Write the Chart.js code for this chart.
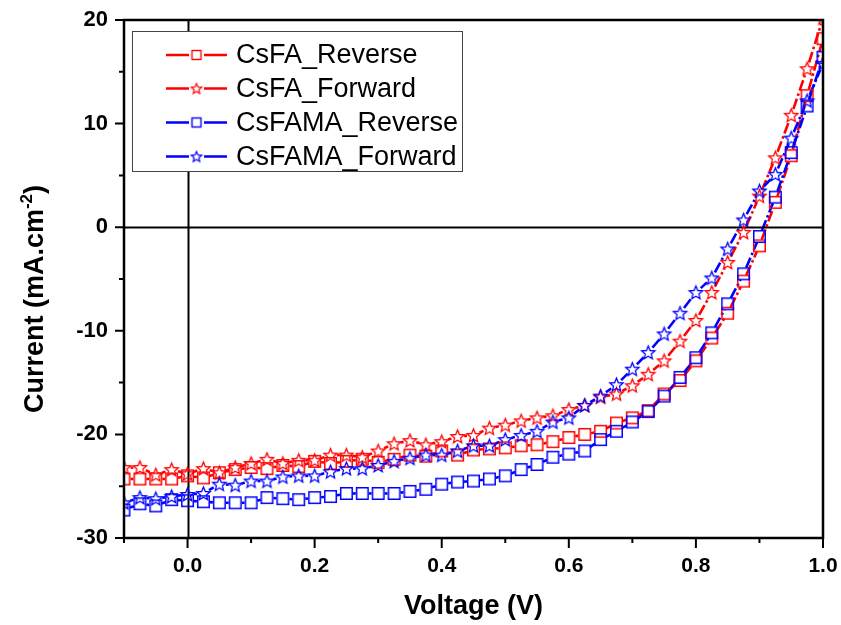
<!DOCTYPE html>
<html>
<head>
<meta charset="utf-8">
<script src="https://cdn.jsdelivr.net/npm/chart.js@4.4.1/dist/chart.umd.min.js"></script>
<style>
  html, body { margin: 0; padding: 0; background: #fff; }
  #wrap { width: 841px; height: 625px; }
</style>
</head>
<body>
<div id="wrap"><canvas id="jvChart" width="841" height="625"></canvas></div>
<script>
// J-V sweep data (V in volts, J in mA/cm2)
var voltage = [-0.1, -0.075, -0.05, -0.025, 0, 0.025, 0.05, 0.075, 0.1, 0.125,
  0.15, 0.175, 0.2, 0.225, 0.25, 0.275, 0.3, 0.325, 0.35, 0.375,
  0.4, 0.425, 0.45, 0.475, 0.5, 0.525, 0.55, 0.575, 0.6, 0.625,
  0.65, 0.675, 0.7, 0.725, 0.75, 0.775, 0.8, 0.825, 0.85, 0.875,
  0.9, 0.925, 0.95, 0.975, 1.0];

var csfaReverse = [-24.3, -24.3, -24.3, -24.3, -24.0, -24.2, -23.7, -23.4, -23.2, -23.3,
  -23.0, -23.1, -22.6, -22.8, -22.6, -22.4, -22.7, -22.4, -22.0, -22.1,
  -21.6, -22.0, -21.5, -21.4, -21.3, -21.1, -21.0, -20.7, -20.3, -20.0,
  -19.7, -18.9, -18.4, -17.7, -16.1, -14.8, -12.9, -10.7, -8.3, -5.2,
  -1.8, 2.4, 6.9, 12.7, 18.2];

var csfaForward = [-23.2, -23.2, -23.9, -23.4, -23.8, -23.3, -23.7, -23.2, -22.8, -22.4,
  -22.8, -22.5, -22.5, -22.0, -22.0, -22.2, -21.6, -20.9, -20.6, -21.0,
  -20.7, -20.2, -20.1, -19.4, -19.1, -18.7, -18.4, -18.2, -17.6, -17.2,
  -16.4, -16.1, -15.3, -14.2, -12.9, -11.0, -9.0, -6.3, -3.4, -0.5,
  3.0, 6.7, 10.8, 15.3, 20.2];

var csfamaReverse = [-27.3, -26.7, -26.9, -26.3, -26.4, -26.5, -26.6, -26.6, -26.6, -26.1,
  -26.2, -26.3, -26.1, -26.0, -25.7, -25.7, -25.7, -25.7, -25.5, -25.3,
  -24.8, -24.6, -24.5, -24.3, -24.0, -23.4, -22.9, -22.2, -21.9, -21.6,
  -20.5, -19.7, -18.8, -17.8, -16.3, -14.5, -12.6, -10.2, -7.4, -4.5,
  -0.9, 2.9, 7.2, 11.7, 16.4];

var csfamaForward = [-26.6, -26.1, -26.2, -26.0, -25.8, -25.7, -24.8, -24.9, -24.5, -24.5,
  -24.1, -24.0, -24.0, -23.6, -23.3, -23.3, -23.0, -22.6, -22.3, -22.0,
  -22.0, -21.6, -21.1, -21.1, -20.5, -20.1, -19.7, -18.8, -18.4, -17.2,
  -16.3, -15.2, -13.7, -12.1, -10.3, -8.3, -6.3, -4.9, -2.1, 0.7,
  3.5, 5.1, 8.6, 12.2, 15.8];

var seriesNames = ['CsFA_Reverse', 'CsFA_Forward', 'CsFAMA_Reverse', 'CsFAMA_Forward'];
var xMajorTicks = [0, 0.2, 0.4, 0.6, 0.8, 1.0];
var xMinorTicks = [-0.1, 0.1, 0.3, 0.5, 0.7, 0.9];
var yMajorTicks = [-30, -20, -10, 0, 10, 20];
var yMinorTicks = [-25, -15, -5, 5, 15];

var RED = '#ff0000';
var BLUE = '#0000ff';
var FONT = '"Liberation Sans", Arial, Helvetica, sans-serif';

// hollow five-point star as a small canvas, used as pointStyle
function makeStar(color, r, lw) {
    var size = Math.ceil(r * 2 + lw * 2 + 2);
    var c = document.createElement('canvas');
    c.width = size;
    c.height = size;
    var g = c.getContext('2d');
    var cx = size / 2, cy = size / 2 + r * 0.08;
    g.beginPath();
    for (var i = 0; i < 10; i++) {
        var rr = (i % 2 === 0) ? r : r * 0.45;
        var a = -Math.PI / 2 + i * Math.PI / 5;
        var px = cx + rr * Math.cos(a), py = cy + rr * Math.sin(a);
        if (i === 0) g.moveTo(px, py); else g.lineTo(px, py);
    }
    g.closePath();
    g.strokeStyle = color;
    g.lineWidth = lw;
    g.stroke();
    return c;
}

function makeSquare(color, side, lw) {
    var size = Math.ceil(side + lw * 2 + 2);
    var c = document.createElement('canvas');
    c.width = size;
    c.height = size;
    var g = c.getContext('2d');
    g.strokeStyle = color;
    g.lineWidth = lw;
    g.strokeRect((size - side) / 2, (size - side) / 2, side, side);
    return c;
}

var redStar = makeStar(RED, 7, 1.3);
var blueStar = makeStar(BLUE, 7, 1.3);
var redSquare = makeSquare(RED, 11.5, 1.5);
var blueSquare = makeSquare(BLUE, 11.5, 1.5);

function toPoints(ys) {
    return voltage.map(function (v, i) { return { x: v, y: ys[i] }; });
}

// keep tick labels from eating into the plot area
function pinScale(scale) {
    scale.paddingLeft = 0;
    scale.paddingRight = 0;
    scale.paddingTop = 0;
    scale.paddingBottom = 0;
}

// lines between symbols with a gap, dash-dot like the original
var symbolLines = {
    id: 'symbolLines',
    beforeDatasetsDraw: function (chart) {
        var ctx = chart.ctx, area = chart.chartArea;
        var gap = 6.5;
        ctx.save();
        ctx.beginPath();
        ctx.rect(area.left, area.top, area.right - area.left, area.bottom - area.top);
        ctx.clip();
        ctx.lineWidth = 2.6;
        ctx.setLineDash([11, 3, 2.5, 3]);
        chart.data.datasets.forEach(function (ds, i) {
            var pts = chart.getDatasetMeta(i).data;
            ctx.strokeStyle = ds.lineColor;
            for (var k = 1; k < pts.length; k++) {
                var a = pts[k - 1], b = pts[k];
                var dx = b.x - a.x, dy = b.y - a.y;
                var len = Math.sqrt(dx * dx + dy * dy);
                if (len <= gap * 2) continue;
                var ux = dx / len, uy = dy / len;
                ctx.beginPath();
                ctx.moveTo(a.x + ux * gap, a.y + uy * gap);
                ctx.lineTo(b.x - ux * gap, b.y - uy * gap);
                ctx.stroke();
            }
        });
        ctx.restore();
    }
};

// zero lines, frame, ticks, axis titles, legend
var frame = {
    id: 'frame',
    beforeDatasetsDraw: function (chart) {
        var ctx = chart.ctx, area = chart.chartArea;
        var xs = chart.scales.x, ys = chart.scales.y;
        ctx.save();
        ctx.strokeStyle = '#000';
        ctx.lineWidth = 2;
        var x0 = Math.round(xs.getPixelForValue(0)) + 0.5;
        var y0 = Math.round(ys.getPixelForValue(0)) + 0.5;
        ctx.beginPath();
        ctx.moveTo(x0, area.top);
        ctx.lineTo(x0, area.bottom);
        ctx.moveTo(area.left, y0);
        ctx.lineTo(area.right, y0);
        ctx.stroke();
        ctx.restore();
    },
    afterDatasetsDraw: function (chart) {
        var ctx = chart.ctx, area = chart.chartArea;
        var xs = chart.scales.x, ys = chart.scales.y;
        ctx.save();
        ctx.strokeStyle = '#000';
        ctx.lineWidth = 2.5;
        ctx.strokeRect(area.left, area.top, area.right - area.left, area.bottom - area.top);

        ctx.lineWidth = 2;
        ctx.beginPath();
        xMajorTicks.forEach(function (v) {
            var px = xs.getPixelForValue(v);
            ctx.moveTo(px, area.bottom);
            ctx.lineTo(px, area.bottom + 10);
        });
        xMinorTicks.forEach(function (v) {
            var px = xs.getPixelForValue(v);
            ctx.moveTo(px, area.bottom);
            ctx.lineTo(px, area.bottom + 5);
        });
        yMajorTicks.forEach(function (v) {
            var py = ys.getPixelForValue(v);
            ctx.moveTo(area.left, py);
            ctx.lineTo(area.left - 9, py);
        });
        yMinorTicks.forEach(function (v) {
            var py = ys.getPixelForValue(v);
            ctx.moveTo(area.left, py);
            ctx.lineTo(area.left - 5, py);
        });
        ctx.stroke();

        // x title
        ctx.fillStyle = '#000';
        ctx.font = 'bold 27px ' + FONT;
        ctx.textAlign = 'center';
        ctx.textBaseline = 'middle';
        ctx.fillText('Voltage (V)', (area.left + area.right) / 2, 607);

        // y title with superscript
        ctx.translate(33, 299);
        ctx.rotate(-Math.PI / 2);
        var big = 'bold 27px ' + FONT, small = 'bold 17px ' + FONT;
        var t1 = 'Current (mA.cm', t2 = '-2', t3 = ')';
        ctx.font = big;
        var w1 = ctx.measureText(t1).width, w3 = ctx.measureText(t3).width;
        ctx.font = small;
        var w2 = ctx.measureText(t2).width;
        var sx = -(w1 + w2 + w3) / 2;
        ctx.textAlign = 'left';
        ctx.textBaseline = 'alphabetic';
        ctx.font = big;
        ctx.fillText(t1, sx, 10);
        ctx.font = small;
        ctx.fillText(t2, sx + w1, -1);
        ctx.font = big;
        ctx.fillText(t3, sx + w1 + w2, 10);
        ctx.restore();
    },
    afterDraw: function (chart) {
        var ctx = chart.ctx;
        var bx = 132.5, by = 31.5, bw = 330, bh = 140;
        ctx.save();
        ctx.fillStyle = '#fff';
        ctx.fillRect(bx, by, bw, bh);
        ctx.strokeStyle = '#444';
        ctx.lineWidth = 1;
        ctx.strokeRect(bx, by, bw, bh);
        var rows = [55, 88.5, 122.5, 156.5];
        var colors = [RED, RED, BLUE, BLUE];
        var marks = [
            makeSquare(RED, 9, 1.4), makeStar(RED, 5.5, 1.2),
            makeSquare(BLUE, 9, 1.4), makeStar(BLUE, 5.5, 1.2)
        ];
        ctx.lineWidth = 2.6;
        ctx.font = '27px ' + FONT;
        ctx.textBaseline = 'middle';
        ctx.textAlign = 'left';
        rows.forEach(function (y, i) {
            ctx.strokeStyle = colors[i];
            ctx.beginPath();
            ctx.moveTo(166, y);
            ctx.lineTo(189, y);
            ctx.moveTo(204, y);
            ctx.lineTo(227, y);
            ctx.stroke();
            var m = marks[i];
            ctx.drawImage(m, 196.5 - m.width / 2, y - m.height / 2);
            ctx.fillStyle = '#000';
            ctx.fillText(seriesNames[i], 236, y + 1);
        });
        ctx.restore();
    }
};

var ctx = document.getElementById('jvChart').getContext('2d');

var jvChart = new Chart(ctx, {
    type: 'scatter',
    data: {
        datasets: [{
            label: seriesNames[0],
            data: toPoints(csfaReverse),
            lineColor: RED,
            pointStyle: redSquare,
            order: 4
        }, {
            label: seriesNames[1],
            data: toPoints(csfaForward),
            lineColor: RED,
            pointStyle: redStar,
            order: 3
        }, {
            label: seriesNames[2],
            data: toPoints(csfamaReverse),
            lineColor: BLUE,
            pointStyle: blueSquare,
            order: 2
        }, {
            label: seriesNames[3],
            data: toPoints(csfamaForward),
            lineColor: BLUE,
            pointStyle: blueStar,
            order: 1
        }]
    },
    options: {
        responsive: false,
        animation: false,
        events: [],
        layout: { padding: { top: 20, right: 18, left: 0, bottom: 0 } },
        elements: { point: { radius: 7, hoverRadius: 7 } },
        scales: {
            x: {
                type: 'linear',
                min: -0.1,
                max: 1.0,
                afterFit: function (scale) { scale.height = 87; pinScale(scale); },
                grid: { display: false, drawTicks: false },
                border: { display: false },
                ticks: {
                    stepSize: 0.1,
                    padding: 16,
                    color: '#000',
                    font: { family: FONT, size: 21, weight: 'bold' },
                    callback: function (v) {
                        var k = Math.round(v * 10);
                        return (k % 2 === 0) ? (k / 10).toFixed(1) : '';
                    }
                }
            },
            y: {
                type: 'linear',
                min: -30,
                max: 20,
                afterFit: function (scale) { scale.width = 124; pinScale(scale); },
                grid: { display: false, drawTicks: false },
                border: { display: false },
                ticks: {
                    stepSize: 5,
                    padding: 16,
                    color: '#000',
                    font: { family: FONT, size: 22, weight: 'bold' },
                    callback: function (v) {
                        return (Math.round(v) % 10 === 0) ? String(v) : '';
                    }
                }
            }
        },
        plugins: {
            legend: { display: false },
            tooltip: { enabled: false }
        }
    },
    plugins: [symbolLines, frame]
});
</script>
</body>
</html>
